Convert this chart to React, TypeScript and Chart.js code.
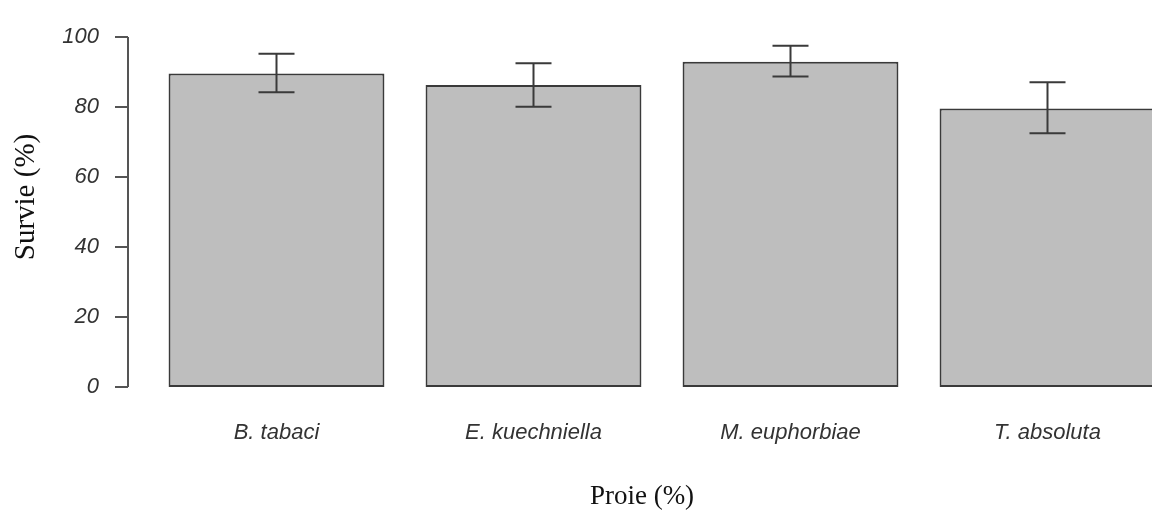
import React, { useEffect, useRef } from "react";
import { Chart, registerables } from "chart.js";

Chart.register(...registerables);

const categories = ["B. tabaci", "E. kuechniella", "M. euphorbiae", "T. absoluta"];
const survival = [89.6, 86.3, 92.9, 79.6];
const errLow = [84.2, 80.1, 88.7, 72.5];
const errHigh = [95.2, 92.5, 97.5, 87.1];
const yTicks = [0, 20, 40, 60, 80, 100];
const xTitle = "Proie (%)";
const yTitle = "Survie (%)";

const errorBarPlugin = {
  id: "errorBars",
  afterDatasetsDraw(chart: any) {
    const meta = chart.getDatasetMeta(0);
    const y = chart.scales.y;
    const ctx = chart.ctx;
    ctx.save();
    ctx.strokeStyle = "#3a3a3a";
    ctx.lineWidth = 2;
    meta.data.forEach((bar: any, i: number) => {
      const x = bar.x;
      const yl = y.getPixelForValue(errLow[i]);
      const yh = y.getPixelForValue(errHigh[i]);
      ctx.beginPath();
      ctx.moveTo(x, yl);
      ctx.lineTo(x, yh);
      ctx.moveTo(x - 18, yl);
      ctx.lineTo(x + 18, yl);
      ctx.moveTo(x - 18, yh);
      ctx.lineTo(x + 18, yh);
      ctx.stroke();
    });
    ctx.restore();
  },
};

const rAxisPlugin = {
  id: "rAxis",
  afterDraw(chart: any) {
    const y = chart.scales.y;
    const ctx = chart.ctx;
    const ax = chart.chartArea.left - 20;
    ctx.save();
    ctx.strokeStyle = "#555555";
    ctx.lineWidth = 2;
    ctx.beginPath();
    ctx.moveTo(ax, y.getPixelForValue(yTicks[0]));
    ctx.lineTo(ax, y.getPixelForValue(yTicks[yTicks.length - 1]));
    yTicks.forEach((t) => {
      const py = y.getPixelForValue(t);
      ctx.moveTo(ax - 13, py);
      ctx.lineTo(ax, py);
    });
    ctx.stroke();

    ctx.fillStyle = "#111111";
    ctx.textAlign = "center";
    ctx.textBaseline = "middle";
    ctx.font = "27px 'Liberation Serif', 'Times New Roman', serif";
    ctx.fillText(xTitle, 642, 497);
    ctx.translate(26, 197);
    ctx.rotate(-Math.PI / 2);
    ctx.font = "29px 'Liberation Serif', 'Times New Roman', serif";
    ctx.fillText(yTitle, 0, 0);
    ctx.restore();
  },
};

export default function App() {
  const ref = useRef<HTMLCanvasElement>(null);
  useEffect(() => {
    if (!ref.current) return;
    const chart = new Chart(ref.current, {
      type: "bar",
      data: {
        labels: categories,
        datasets: [
          {
            data: survival,
            backgroundColor: "#bebebe",
            borderColor: "#3a3a3a",
            borderWidth: 2,
            borderSkipped: false,
            barPercentage: 0.84,
            categoryPercentage: 1,
          },
        ],
      },
      options: {
        responsive: false,
        animation: false,
        layout: { padding: { top: 37, left: 0, right: 0, bottom: 0 } },
        plugins: { legend: { display: false }, tooltip: { enabled: false } },
        scales: {
          x: {
            grid: { display: false, drawTicks: false },
            border: { display: false },
            ticks: {
              padding: 33,
              color: "#333333",
              font: { family: "Liberation Sans, Arial", size: 22, style: "italic" },
            },
            afterFit(scale: any) {
              scale.height = 127;
              scale.paddingLeft = 0;
              scale.paddingRight = 0;
            },
          },
          y: {
            min: 0,
            max: 100,
            grid: { display: false, drawTicks: false },
            border: { display: false },
            ticks: {
              stepSize: 20,
              padding: 49,
              color: "#333333",
              font: { family: "Liberation Sans, Arial", size: 22, style: "italic" },
            },
            afterFit(scale: any) {
              scale.width = 148;
              scale.paddingTop = 0;
              scale.paddingBottom = 0;
            },
          },
        },
      },
      plugins: [errorBarPlugin, rAxisPlugin],
    });
    return () => chart.destroy();
  }, []);

  return (
    <div
      style={{
        position: "fixed",
        left: 0,
        top: 0,
        width: 1152,
        height: 514,
        overflow: "hidden",
        background: "#ffffff",
      }}
    >
      <canvas ref={ref} width={1176} height={514} style={{ display: "block" }} />
    </div>
  );
}
